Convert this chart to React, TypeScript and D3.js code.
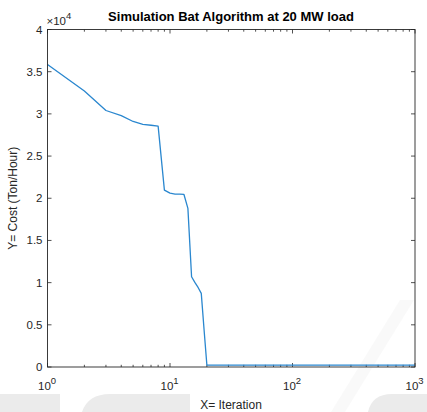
import React from "react";
import * as d3 from "d3";

const iterations = [1, 2, 3, 4, 5, 6, 7, 8, 9, 10, 11, 12, 13, 14, 15, 16, 17, 18, 19, 20, 1000];
const costs = [35860, 32700, 30400, 29800, 29100, 28750, 28650, 28550, 20970, 20600, 20500, 20480, 20450, 18800, 10700, 10000, 9400, 8730, 4300, 230, 230];
const yTickValues = [0, 0.5, 1, 1.5, 2, 2.5, 3, 3.5, 4];
const xDecades = [0, 1, 2, 3];

const W = 427, H = 412;
const L = 47.5, R = 415, T = 29.5, B = 367;
const axisColor = "#262626";
const font = "Liberation Sans, Arial, Helvetica, sans-serif";

export default function App() {
  const x = d3.scaleLog().domain([1, 1000]).range([L, R]);
  const y = d3.scaleLinear().domain([0, 40000]).range([B, T]);
  const line = d3.line<number>().x((_, i) => x(iterations[i])).y((d) => y(d));
  const minor: number[] = [];
  for (let d = 0; d < 3; d++) for (let k = 2; k <= 9; k++) minor.push(k * Math.pow(10, d));

  return (
    <svg width={W} height={H} style={{ position: "absolute", left: 0, top: 0 }} fontFamily={font}>
      <rect x={0} y={0} width={W} height={H} fill="#fff" />
      {/* watermark */}
      <g fill="#ebebeb">
        <rect x={0} y={394} width={60} height={18} />
        <path d="M82,412 Q88,394 110,394 L190,394 L190,412 Z" />
        <path d="M368,412 Q372,394 392,394 L427,394 L427,412 Z" />
        <path d="M400,300 L414,300 L345,412 L331,412 Z" opacity={0.3} />
      </g>
      {/* ticks */}
      <g stroke={axisColor} strokeWidth={0.8}>
        {yTickValues.map((v) => (
          <g key={"y" + v}>
            <line x1={L} x2={L + 4} y1={y(v * 1e4)} y2={y(v * 1e4)} />
            <line x1={R} x2={R - 4} y1={y(v * 1e4)} y2={y(v * 1e4)} />
          </g>
        ))}
        {xDecades.map((d) => (
          <g key={"xd" + d}>
            <line x1={x(Math.pow(10, d))} x2={x(Math.pow(10, d))} y1={B} y2={B - 4} />
            <line x1={x(Math.pow(10, d))} x2={x(Math.pow(10, d))} y1={T} y2={T + 4} />
          </g>
        ))}
        {minor.map((m) => (
          <g key={"m" + m}>
            <line x1={x(m)} x2={x(m)} y1={B} y2={B - 2.2} />
            <line x1={x(m)} x2={x(m)} y1={T} y2={T + 2.2} />
          </g>
        ))}
      </g>
      <path d={line(costs) || ""} fill="none" stroke="#2a87cf" strokeWidth={1.3} strokeLinejoin="round" />
      <rect x={L} y={T} width={R - L} height={B - T} fill="none" stroke={axisColor} strokeWidth={0.9} />
      {/* y tick labels */}
      <g fontSize={11.5} fill={axisColor} textAnchor="end">
        {yTickValues.map((v) => (
          <text key={"yl" + v} x={L - 5} y={y(v * 1e4) + 4}>{String(v)}</text>
        ))}
      </g>
      <text x={L - 1} y={25} fontSize={11.5} fill={axisColor}>
        ×10<tspan dy={-6} fontSize={9.5}>4</tspan>
      </text>
      {/* x tick labels */}
      <g fontSize={11.5} fill={axisColor}>
        {xDecades.map((d) => (
          <text key={"xl" + d} x={x(Math.pow(10, d)) - 9.5} y={390}>
            10<tspan dy={-6} fontSize={9.5}>{String(d)}</tspan>
          </text>
        ))}
      </g>
      <text x={231} y={21} textAnchor="middle" fontSize={13} fontWeight="bold" fill="#000">
        Simulation Bat Algorithm at 20 MW load
      </text>
      <text x={231} y={409} textAnchor="middle" fontSize={12} fill={axisColor}>
        X= Iteration
      </text>
      <text transform={`translate(17,${(T + B) / 2}) rotate(-90)`} textAnchor="middle" fontSize={12} fill={axisColor}>
        Y= Cost (Ton/Hour)
      </text>
    </svg>
  );
}
